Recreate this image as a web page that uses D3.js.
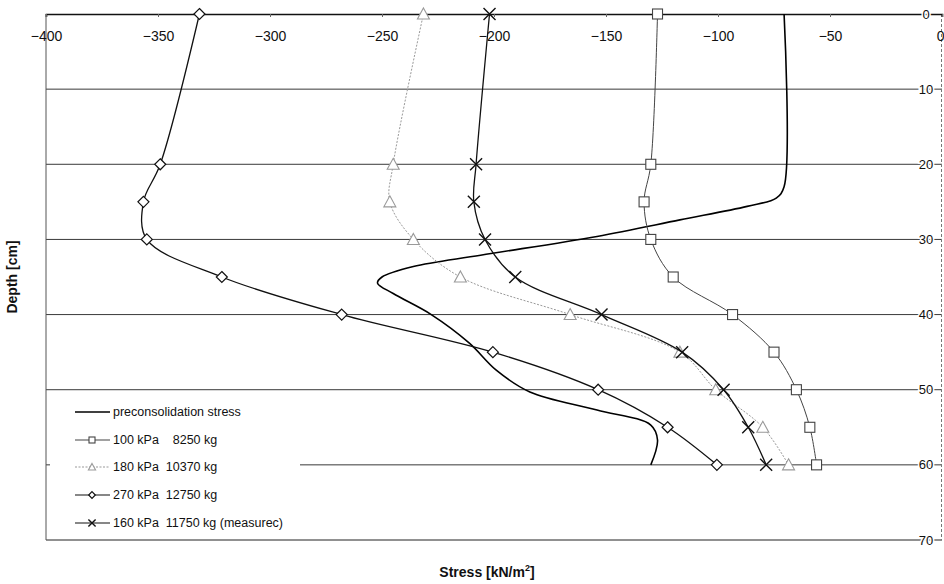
<!DOCTYPE html>
<html><head><meta charset="utf-8">
<script src="https://cdn.jsdelivr.net/npm/d3@7"></script>
<style>
html,body{margin:0;padding:0;background:#fff;}
svg{display:block;font-family:"Liberation Sans",Arial,sans-serif;}
</style></head>
<body>
<svg id="chart" width="944" height="584"></svg>
<script>
// ---- data ----
const depths = [0, 20, 25, 30, 35, 40, 45, 50, 55, 60];
const s100 = [-127, -130, -133, -130, -120, -93.5, -75, -65, -59, -56];
const s180 = [-231.5, -245, -246.5, -236, -215, -166, -117, -101, -80, -68.5];
const s270 = [-331.5, -349, -356.5, -355, -321.5, -268, -200.5, -153.5, -122.5, -100.5];
const s160 = [-202, -208, -209, -204, -190.5, -152, -116, -97.5, -86.5, -78.5];
const preDepth = [0, 23, 24.5, 25.6, 27.4, 29.6, 32.1, 33.6, 35, 35.8, 37.2, 40, 43.8, 47.4, 50.3, 52.7, 54.7, 56.7, 60];
const preStress = [-70.5, -70.5, -74, -87, -117, -154, -206, -236, -250, -252, -245, -228, -211, -199, -184, -154, -130, -127, -130];
const xTicks = [-400, -350, -300, -250, -200, -150, -100, -50, 0];
const yTicks = [0, 10, 20, 30, 40, 50, 60, 70];
const legendLabels = ["preconsolidation stress", "100 kPa    8250 kg", "180 kPa  10370 kg", "270 kPa  12750 kg", "160 kPa  11750 kg (measurec)"];

const svg = d3.select("#chart");
const x = d3.scaleLinear().domain([-400, 0]).range([46, 942]);
const y = d3.scaleLinear().domain([0, 70]).range([14, 540]);

// gridlines
svg.append("g").selectAll("line").data(yTicks.filter(d => d > 0 && d < 70)).join("line")
  .attr("x1", x(-400)).attr("x2", x(0)).attr("y1", d => y(d)).attr("y2", d => y(d))
  .attr("stroke", "#222").attr("stroke-width", 0.9);
// bottom border
svg.append("line").attr("x1", x(-400)).attr("x2", x(0)).attr("y1", y(70)).attr("y2", y(70))
  .attr("stroke", "#222").attr("stroke-width", 1);
// left border
svg.append("line").attr("x1", x(-400)).attr("x2", x(-400)).attr("y1", y(0)).attr("y2", y(70))
  .attr("stroke", "#555").attr("stroke-width", 1);
// right border
svg.append("line").attr("x1", x(0) - 0.5).attr("x2", x(0) - 0.5).attr("y1", y(0)).attr("y2", y(70))
  .attr("stroke", "#777").attr("stroke-width", 1).attr("stroke-dasharray", "3,2");

// top axis
const topAxis = d3.axisBottom(x).tickValues(xTicks).tickSize(3).tickFormat(d3.format("d"));
const gTop = svg.append("g").attr("transform", `translate(0,${y(0)})`).call(topAxis);
gTop.select(".domain").attr("stroke", "#111").attr("stroke-width", 1.6);
gTop.selectAll(".tick line").attr("stroke", "#666");
gTop.selectAll(".tick text").attr("y", 17).attr("font-size", 14).attr("fill", "#111")
  .attr("font-family", "Liberation Sans, Arial, sans-serif")
  .attr("text-anchor", d => d === 0 ? "end" : "middle")
  .attr("dx", d => d === 0 ? 2 : 0);

// right depth labels
svg.append("g").selectAll("text").data(yTicks).join("text")
  .attr("x", 926).attr("y", d => y(d)).attr("dy", "0.35em")
  .attr("text-anchor", "middle").attr("font-size", 13).attr("fill", "#111")
  .attr("stroke", "#fff").attr("stroke-width", 3).attr("paint-order", "stroke")
  .text(d => d);

// line generator
const line = d3.line().x(d => x(d[1])).y(d => y(d[0])).curve(d3.curveCatmullRom.alpha(0.5));

// preconsolidation
const pre = preDepth.map((d, i) => [d, preStress[i]]);
svg.append("path").attr("d", line(pre)).attr("fill", "none").attr("stroke", "#000").attr("stroke-width", 1.6);

// series definitions
const series = [
  {vals: s100, color: "#444", width: 1, dash: null, marker: "square"},
  {vals: s180, color: "#999", width: 1, dash: "2,1.5", marker: "triangle"},
  {vals: s270, color: "#111", width: 1.3, dash: null, marker: "diamond"},
  {vals: s160, color: "#111", width: 1.3, dash: null, marker: "x"}
];

function drawMarker(g, type, cx, cy, color, k) {
  k = k || 1;
  if (type === "square") {
    g.append("rect").attr("x", cx - 5 * k).attr("y", cy - 5 * k).attr("width", 10 * k).attr("height", 10 * k)
      .attr("fill", "#fff").attr("stroke", color).attr("stroke-width", 1.1);
  } else if (type === "triangle") {
    g.append("path").attr("d", `M${cx},${cy - 6 * k}L${cx + 6 * k},${cy + 5 * k}L${cx - 6 * k},${cy + 5 * k}Z`)
      .attr("fill", "#fff").attr("stroke", color).attr("stroke-width", 1.1);
  } else if (type === "diamond") {
    g.append("path").attr("d", `M${cx},${cy - 5.5 * k}L${cx + 5.5 * k},${cy}L${cx},${cy + 5.5 * k}L${cx - 5.5 * k},${cy}Z`)
      .attr("fill", "#fff").attr("stroke", color).attr("stroke-width", 1.2);
  } else if (type === "x") {
    g.append("path").attr("d", `M${cx - 6 * k},${cy - 6 * k}L${cx + 6 * k},${cy + 6 * k}M${cx + 6 * k},${cy - 6 * k}L${cx - 6 * k},${cy + 6 * k}`)
      .attr("fill", "none").attr("stroke", color).attr("stroke-width", 1.4);
  }
}

series.forEach(s => {
  const pts = depths.map((d, i) => [d, s.vals[i]]);
  svg.append("path").attr("d", line(pts)).attr("fill", "none")
    .attr("stroke", s.color).attr("stroke-width", s.width)
    .attr("stroke-dasharray", s.dash);
  const g = svg.append("g");
  pts.forEach(p => drawMarker(g, s.marker, x(p[1]), y(p[0]), s.color));
});

// legend
const lg = svg.append("g");
lg.append("rect").attr("x", 50).attr("y", 397).attr("width", 250).attr("height", 138).attr("fill", "#fff");
const legendMarkers = [null, "square", "triangle", "diamond", "x"];
const legendColors = ["#000", "#444", "#999", "#111", "#111"];
const legendY = [412, 440, 467, 495, 523];
legendLabels.forEach((lab, i) => {
  lg.append("line").attr("x1", 75).attr("x2", 110).attr("y1", legendY[i]).attr("y2", legendY[i])
    .attr("stroke", legendColors[i]).attr("stroke-width", i === 0 ? 1.6 : 1.1)
    .attr("stroke-dasharray", i === 2 ? "2,1.5" : null);
  if (legendMarkers[i]) {
    drawMarker(lg.append("g"), legendMarkers[i], 92, legendY[i], legendColors[i], 0.6);
  }
  lg.append("text").attr("x", 113).attr("y", legendY[i]).attr("dy", "0.35em")
    .attr("font-size", 12.5).attr("fill", "#111")
    .style("white-space", "pre").text(lab);
});

// axis titles
svg.append("text").attr("transform", "translate(17,277) rotate(-90)")
  .attr("text-anchor", "middle").attr("font-size", 14).attr("font-weight", "bold").attr("fill", "#111")
  .text("Depth [cm]");
const st = svg.append("text").attr("x", 487).attr("y", 577).attr("text-anchor", "middle")
  .attr("font-size", 14).attr("font-weight", "bold").attr("fill", "#111");
st.append("tspan").text("Stress [kN/m");
st.append("tspan").attr("dy", -6).attr("font-size", 9).text("2");
st.append("tspan").attr("dy", 6).text("]");
</script>
</body></html>
